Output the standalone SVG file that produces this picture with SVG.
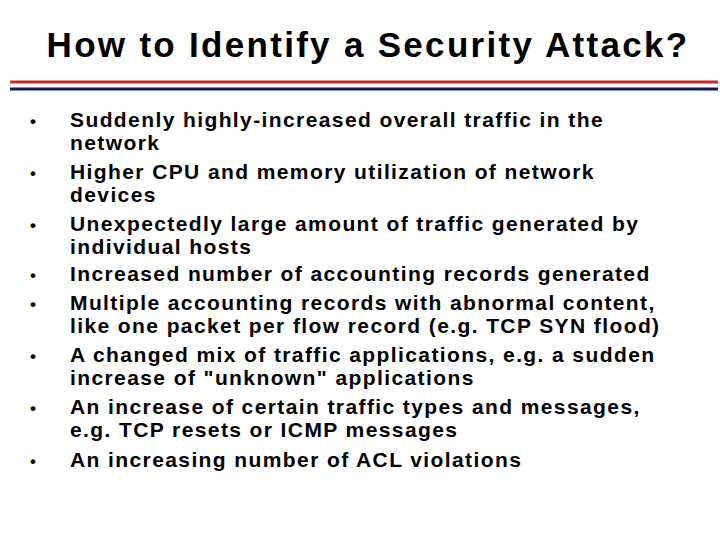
<svg xmlns="http://www.w3.org/2000/svg" width="720" height="540" viewBox="0 0 720 540">
<style>
text{font-family:"Liberation Sans",Arial,sans-serif;font-weight:bold;fill:#000}
.b{font-size:21px;letter-spacing:1.4px}
.t{font-size:35px;letter-spacing:2.3px}
.d{font-size:17px;letter-spacing:0}
</style>
<rect width="720" height="540" fill="#fff"/>
<g id="title"><text class="t" x="368" y="57" text-anchor="middle">How to Identify a Security Attack?</text></g>
<g id="rules">
<line x1="10" y1="82" x2="718" y2="82" stroke="#c8282a" stroke-width="3"/>
<line x1="10" y1="89" x2="718" y2="89" stroke="#141464" stroke-width="3"/>
</g>
<g id="bullets" class="b">
<text class="d" x="30" y="127">•</text><text x="70" y="127">Suddenly highly-increased overall traffic in the</text>
<text x="70" y="150">network</text>
<text class="d" x="30" y="179">•</text><text x="70" y="179">Higher CPU and memory utilization of network</text>
<text x="70" y="202">devices</text>
<text class="d" x="30" y="231">•</text><text x="70" y="231">Unexpectedly large amount of traffic generated by</text>
<text x="70" y="254">individual hosts</text>
<text class="d" x="30" y="281">•</text><text x="70" y="281">Increased number of accounting records generated</text>
<text class="d" x="30" y="310">•</text><text x="70" y="310">Multiple accounting records with abnormal content,</text>
<text x="70" y="333">like one packet per flow record (e.g. TCP SYN flood)</text>
<text class="d" x="30" y="362">•</text><text x="70" y="362">A changed mix of traffic applications, e.g. a sudden</text>
<text x="70" y="385">increase of "unknown" applications</text>
<text class="d" x="30" y="414">•</text><text x="70" y="414">An increase of certain traffic types and messages,</text>
<text x="70" y="437">e.g. TCP resets or ICMP messages</text>
<text class="d" x="30" y="467">•</text><text x="70" y="467">An increasing number of ACL violations</text>
</g>
</svg>
